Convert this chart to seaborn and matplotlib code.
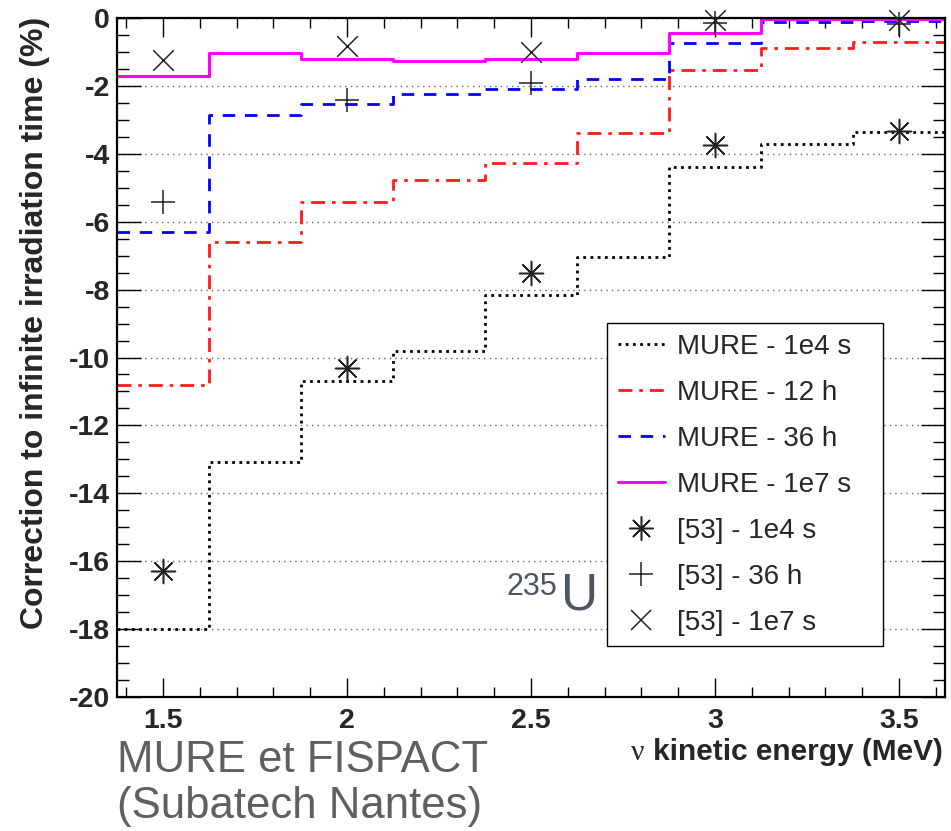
import matplotlib
matplotlib.use("Agg")
import matplotlib.pyplot as plt
import seaborn as sns
from matplotlib.lines import Line2D
from matplotlib.ticker import MultipleLocator, FuncFormatter

# bins of the MURE histograms (MeV)
bin_edges = [1.375, 1.625, 1.875, 2.125, 2.375, 2.625, 2.875, 3.125, 3.375, 3.625]
bin_centers = [1.5, 1.75, 2.0, 2.25, 2.5, 2.75, 3.0, 3.25, 3.5]

mure_1e4s = [-18.0, -13.07, -10.7, -9.8, -8.17, -7.05, -4.38, -3.71, -3.36]
mure_12h = [-10.8, -6.6, -5.43, -4.77, -4.27, -3.38, -1.53, -0.89, -0.72]
mure_36h = [-6.3, -2.85, -2.52, -2.25, -2.1, -1.81, -0.75, -0.11, -0.08]
mure_1e7s = [-1.7, -1.04, -1.2, -1.26, -1.2, -1.04, -0.43, -0.04, -0.04]

# reference [53] points
ref_energy = [1.5, 2.0, 2.5, 3.0, 3.5]
ref_1e4s = [-16.3, -10.3, -7.5, -3.74, -3.33]
ref_36h = [-5.43, -2.43, -1.92, -0.15, -0.18]
ref_1e7s = [-1.24, -0.82, -1.0, -0.05, -0.05]

sns.set_style("ticks")
plt.rcParams["font.family"] = ["Liberation Sans", "DejaVu Sans"]

fig = plt.figure(figsize=(9.51, 8.31), dpi=100)
ax = fig.add_axes([117 / 951, 1 - 697 / 831, 828 / 951, 679 / 831])

hists = [
    (mure_1e4s, "black", (0, (1, 1.6)), 2.0, "MURE - 1e4 s"),
    (mure_12h, "#ff1a1a", (0, (5, 2.5, 1.3, 2.5)), 2.0, "MURE - 12 h"),
    (mure_36h, "#0000ff", (0, (4.5, 3.5)), 2.0, "MURE - 36 h"),
    (mure_1e7s, "#ff00ff", "-", 2.2, "MURE - 1e7 s"),
]
handles = []
for vals, col, ls, lw, lab in hists:
    sns.histplot(x=bin_centers, weights=vals, bins=bin_edges, element="step",
                 fill=False, color=col, linestyle=ls, linewidth=lw, ax=ax)
    handles.append(Line2D([], [], color=col, linestyle=ls, linewidth=lw, label=lab))

star = (8, 2, 0)
points = [
    (ref_1e4s, star, 300, "[53] - 1e4 s"),
    (ref_36h, "+", 300, "[53] - 36 h"),
    (ref_1e7s, "x", 220, "[53] - 1e7 s"),
]
for vals, mk, size, lab in points:
    sns.scatterplot(x=ref_energy, y=vals, marker=mk, s=size, color="#222222",
                    linewidth=1.1, ax=ax, zorder=5, clip_on=False)
    handles.append(Line2D([], [], marker=mk, color="#222222", linestyle="none",
                          markersize=size ** 0.5, markeredgewidth=1.1, label=lab))

ax.set_xlim(1.375, 3.625)
ax.set_ylim(-20, 0)
ax.set_xlabel("")
ax.set_ylabel("")
ax.xaxis.set_major_locator(MultipleLocator(0.5))
ax.xaxis.set_minor_locator(MultipleLocator(0.1))
ax.yaxis.set_major_locator(MultipleLocator(2))
ax.yaxis.set_minor_locator(MultipleLocator(0.5))
ax.xaxis.set_major_formatter(FuncFormatter(lambda v, p: f"{v:g}"))
ax.yaxis.set_major_formatter(FuncFormatter(lambda v, p: f"{v:g}"))

ax.tick_params(axis="both", which="both", direction="in", top=True, right=True,
               color="black", width=1.0)
ax.tick_params(axis="x", which="major", length=14, pad=8, labelsize=20.5)
ax.tick_params(axis="x", which="minor", length=7)
ax.tick_params(axis="y", which="major", length=17, pad=5, labelsize=20.5)
ax.tick_params(axis="y", which="minor", length=8.5)
for lab in ax.get_xticklabels() + ax.get_yticklabels():
    lab.set_fontweight("bold")
for sp in ax.spines.values():
    sp.set_visible(True)
    sp.set_linewidth(1.6)
    sp.set_color("black")

ax.yaxis.grid(True, which="major", color="#666666", linestyle=(0, (1, 3)), linewidth=1.0)
ax.xaxis.grid(False)

leg = ax.legend(handles=handles, loc="upper left",
                bbox_to_anchor=(607 / 951, 1 - 323 / 831, 276 / 951, 0.0),
                bbox_transform=fig.transFigure, mode="expand", borderaxespad=0,
                fontsize=20, handlelength=1.7, handletextpad=0.45, labelspacing=0.72,
                borderpad=0.38, frameon=True, fancybox=False, framealpha=1)
leg.get_frame().set_edgecolor("black")
leg.get_frame().set_linewidth(1.0)

fig.text(35 / 951, 1 - 323 / 831, "Correction to infinite irradiation time (%)",
         rotation=90, ha="center", va="center", fontsize=23, fontweight="bold")

# x axis title: serif nu in front of the bold sans text
xt = fig.text(943 / 951, 1 - 760 / 831, "kinetic energy (MeV)", ha="right",
              va="baseline", fontsize=21.5, fontweight="bold")
fig.canvas.draw()
bb = xt.get_window_extent()
fig.text((bb.x0 - 9) / 951, 1 - 760 / 831, "\u03bd", ha="right", va="baseline",
         fontsize=21.5, family="Liberation Serif")

fig.text(507 / 951, 1 - 595 / 831, "235", fontsize=22, color="#4d5660", va="baseline")
fig.text(561 / 951, 1 - 610 / 831, "U", fontsize=37, color="#4d5660", va="baseline")

fig.text(117 / 951, 1 - 772 / 831, "MURE et FISPACT", fontsize=31.5, color="#5f5f5f",
         va="baseline")
fig.text(117 / 951, 1 - 818 / 831, "(Subatech Nantes)", fontsize=31.5, color="#5f5f5f",
         va="baseline")

fig.savefig("out.png", dpi=100)
